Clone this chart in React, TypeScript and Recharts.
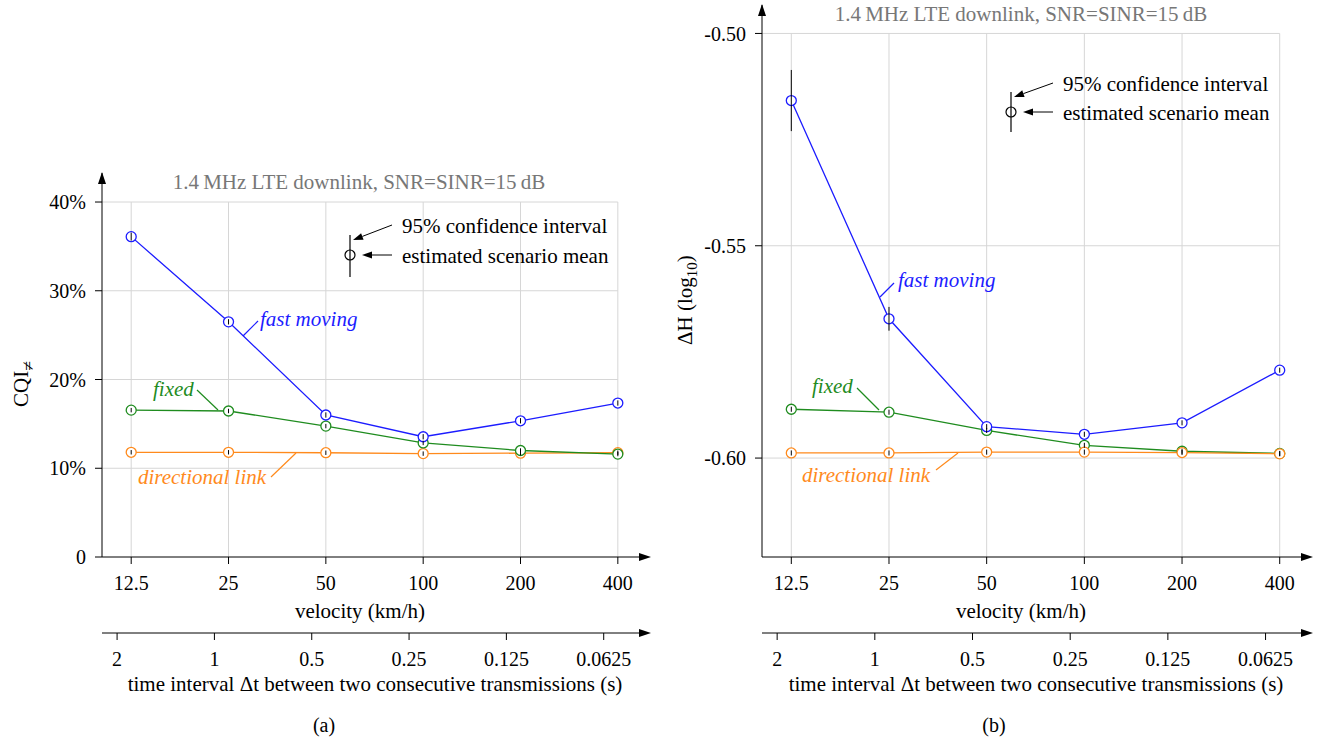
import React from 'react'
import { ErrorBar, Line, LineChart, ReferenceLine, XAxis, YAxis } from 'recharts'

const velocityLabels = ['12.5', '25', '50', '100', '200', '400']
const intervalLabels = ['2', '1', '0.5', '0.25', '0.125', '0.0625']

// (a) CQI mismatch, %
const cqiFast = [36.1, 26.5, 16.0, 13.55, 15.35, 17.35]
const cqiFixed = [16.55, 16.45, 14.75, 12.85, 12.0, 11.6]
const cqiDirectional = [11.8, 11.8, 11.75, 11.65, 11.7, 11.75]
const cqiFastCi = [0.45, 0.3, 0.3, 0.3, 0.3, 0.3]
const cqiFixedCi = [0.25, 0.25, 0.25, 0.25, 0.25, 0.25]
const cqiDirectionalCi = [0.25, 0.25, 0.25, 0.25, 0.25, 0.25]
const cqiTicks = [0, 10, 20, 30, 40]

// (b) delta H (log10)
const dhFast = [-0.5158, -0.5672, -0.5926, -0.5944, -0.5917, -0.5793]
const dhFixed = [-0.5885, -0.5892, -0.5935, -0.597, -0.5984, -0.5989]
const dhDirectional = [-0.5988, -0.5988, -0.5986, -0.5986, -0.5987, -0.599]
const dhFastCi = [0.0072, 0.0028, 0.0006, 0.0006, 0.0006, 0.0006]
const dhFixedCi = [0.0006, 0.0006, 0.0006, 0.0006, 0.0006, 0.0006]
const dhDirectionalCi = [0.0006, 0.0006, 0.0006, 0.0006, 0.0006, 0.0006]
const dhTicks = [-0.6, -0.55, -0.5]

const SERIF = '"Liberation Serif", "Times New Roman", serif'
const BLUE = '#1c1cff'
const GREEN = '#1f8c1f'
const ORANGE = '#ff8a1c'
const GRID = '#d6d6d6'

const X_DOMAIN: [number, number] = [-0.3, 5.31]
const T_DOMAIN: [number, number] = [-0.155, 5.455]
const FONT = { fill: '#000', fontSize: 20, fontFamily: SERIF }
const FONT_L = { fill: '#000', fontSize: 21, fontFamily: SERIF }

const cqiRows = velocityLabels.map((_, i) => ({
  i,
  fast: cqiFast[i],
  fixed: cqiFixed[i],
  dir: cqiDirectional[i],
  fastCi: cqiFastCi[i],
  fixedCi: cqiFixedCi[i],
  dirCi: cqiDirectionalCi[i],
}))

const dhRows = velocityLabels.map((_, i) => ({
  i,
  fast: dhFast[i],
  fixed: dhFixed[i],
  dir: dhDirectional[i],
  fastCi: dhFastCi[i],
  fixedCi: dhFixedCi[i],
  dirCi: dhDirectionalCi[i],
}))

interface PanelProps {
  rows: typeof cqiRows
  width: number
  top: number
  right: number
  yDomain: [number, number]
  yTicks: number[]
  yFormat: (v: number) => string
  gridTop: number
  order: string[]
}

const colorOf: Record<string, string> = { dir: ORANGE, fixed: GREEN, fast: BLUE }

function Panel({ rows, width, top, right, yDomain, yTicks, yFormat, gridTop, order }: PanelProps) {
  const idx = rows.map((r) => r.i)
  return (
    <LineChart width={width} height={742} data={rows} margin={{ top, right, bottom: 39, left: 0 }}>
      <XAxis
        xAxisId="a"
        dataKey="i"
        type="number"
        domain={X_DOMAIN}
        allowDataOverflow
        ticks={idx}
        tickFormatter={(i) => velocityLabels[i as number]}
        height={76}
        tickSize={7}
        tickMargin={12}
        axisLine={{ stroke: '#000' }}
        tickLine={{ stroke: '#000' }}
        tick={FONT}
        label={{ value: 'velocity (km/h)', position: 'insideBottom', offset: 15, dx: -15, ...FONT_L }}
      />
      <XAxis
        xAxisId="b"
        dataKey="i"
        type="number"
        domain={T_DOMAIN}
        allowDataOverflow
        ticks={idx}
        tickFormatter={(i) => intervalLabels[i as number]}
        height={70}
        tickSize={7}
        tickMargin={12}
        axisLine={{ stroke: '#000' }}
        tickLine={{ stroke: '#000' }}
        tick={FONT}
        label={{
          value: 'time interval \u0394t between two consecutive transmissions (s)',
          position: 'insideBottom',
          offset: 12,
          ...FONT_L,
        }}
      />
      <YAxis
        type="number"
        domain={yDomain}
        allowDataOverflow
        ticks={yTicks}
        tickFormatter={yFormat}
        width={102}
        tickSize={7}
        tickMargin={9}
        axisLine={{ stroke: '#000' }}
        tickLine={{ stroke: '#000' }}
        tick={FONT}
      />
      {yTicks
        .filter((v) => v !== yDomain[0])
        .map((v) => (
          <ReferenceLine
            key={'h' + v}
            xAxisId="a"
            segment={[{ x: X_DOMAIN[0], y: v }, { x: idx[idx.length - 1], y: v }]}
            stroke={GRID}
            strokeWidth={1}
          />
        ))}
      {idx.map((i) => (
        <ReferenceLine
          key={'g' + i}
          xAxisId="a"
          segment={[{ x: i, y: yDomain[0] }, { x: i, y: gridTop }]}
          stroke={GRID}
          strokeWidth={1}
        />
      ))}
      {/* invisible series that gives the time-interval axis its data */}
      <Line
        xAxisId="b"
        dataKey="fast"
        stroke="none"
        dot={false}
        activeDot={false}
        isAnimationActive={false}
      />
      {order.map((k) => (
        <Line
          key={k}
          xAxisId="a"
          dataKey={k}
          stroke={colorOf[k]}
          strokeWidth={1.3}
          dot={{ r: 5, fill: '#fff', stroke: colorOf[k], strokeWidth: 1.3 }}
          activeDot={false}
          isAnimationActive={false}
        />
      ))}
      {order.map((k) => (
        <Line
          key={k + 'ci'}
          xAxisId="a"
          dataKey={k}
          stroke="none"
          dot={false}
          activeDot={false}
          isAnimationActive={false}
          zIndex={1200}
        >
          <ErrorBar dataKey={k + 'Ci'} width={0} stroke="#000" strokeWidth={1} direction="y" zIndex={1200} />
        </Line>
      ))}
    </LineChart>
  )
}

function Arrow({ x1, y1, x2, y2 }: { x1: number; y1: number; x2: number; y2: number }) {
  const a = Math.atan2(y2 - y1, x2 - x1)
  const len = 10
  const hw = 3.5
  const bx = x2 - len * Math.cos(a)
  const by = y2 - len * Math.sin(a)
  const px = -Math.sin(a) * hw
  const py = Math.cos(a) * hw
  return (
    <g>
      <line x1={x1} y1={y1} x2={bx} y2={by} stroke="#000" strokeWidth={1} />
      <polygon points={`${x2},${y2} ${bx + px},${by + py} ${bx - px},${by - py}`} fill="#000" />
    </g>
  )
}

function AxisHeads({ left, plotLeft, plotRight, yTop }: { left: number; plotLeft: number; plotRight: number; yTop: number }) {
  const x0 = left + plotLeft
  const x1 = left + plotRight
  return (
    <g fill="#000">
      <polygon points={`${x0},${yTop - 1} ${x0 - 4},${yTop + 11} ${x0 + 4},${yTop + 11}`} />
      <polygon points={`${x1 + 3},557 ${x1 - 9},553 ${x1 - 9},561`} />
      <polygon points={`${x1 + 3},633 ${x1 - 9},629 ${x1 - 9},637`} />
    </g>
  )
}

function Legend({ cx, cy, lo, hi, tx, t1, t2 }: { cx: number; cy: number; lo: number; hi: number; tx: number; t1: number; t2: number }) {
  return (
    <g>
      <line x1={cx} y1={lo} x2={cx} y2={hi} stroke="#000" strokeWidth={1.2} />
      <circle cx={cx} cy={cy} r={5} fill="none" stroke="#000" strokeWidth={1.2} />
      <Arrow x1={tx - 10} y1={t1 - 8} x2={cx + 3} y2={lo + 5} />
      <Arrow x1={tx - 10} y1={cy} x2={cx + 12} y2={cy} />
      <text x={tx} y={t1} {...FONT_L}>95% confidence interval</text>
      <text x={tx} y={t2} {...FONT_L}>estimated scenario mean</text>
    </g>
  )
}

function SeriesLabel({ text, x, y, color, l }: { text: string; x: number; y: number; color: string; l: number[] }) {
  return (
    <g>
      <line x1={l[0]} y1={l[1]} x2={l[2]} y2={l[3]} stroke={color} strokeWidth={1.2} />
      <text x={x} y={y} fill={color} fontSize={21} fontStyle="italic" fontFamily={SERIF}>
        {text}
      </text>
    </g>
  )
}

export default function App() {
  const title = '1.4\u2009MHz LTE downlink, SNR=SINR=15\u2009dB'
  return (
    <div style={{ position: 'absolute', left: 0, top: 0, width: 1324, height: 742, background: '#fff' }}>
      <div style={{ position: 'absolute', left: 0, top: 0 }}>
        <Panel
          rows={cqiRows}
          width={660}
          top={173}
          right={12}
          yDomain={[0, 43.27]}
          yTicks={cqiTicks}
          yFormat={(v) => (v === 0 ? '0' : `${v}%`)}
          gridTop={40}
          order={['dir', 'fixed', 'fast']}
        />
      </div>
      <div style={{ position: 'absolute', left: 660, top: 0 }}>
        <Panel
          rows={dhRows}
          width={664}
          top={5}
          right={14}
          yDomain={[-0.6233, -0.4933]}
          yTicks={dhTicks}
          yFormat={(v) => v.toFixed(2)}
          gridTop={-0.5}
          order={['fixed', 'dir', 'fast']}
        />
      </div>
      <svg
        width={1324}
        height={742}
        style={{ position: 'absolute', left: 0, top: 0, pointerEvents: 'none' }}
      >
        <AxisHeads left={0} plotLeft={102} plotRight={648} yTop={173} />
        <AxisHeads left={660} plotLeft={102} plotRight={650} yTop={5} />

        <text x={359} y={189} textAnchor="middle" fill="#777" fontSize={21} fontFamily={SERIF}>{title}</text>
        <text x={1021} y={21} textAnchor="middle" fill="#777" fontSize={21} fontFamily={SERIF}>{title}</text>

        <Legend cx={350} cy={255} lo={235} hi={277} tx={402} t1={233} t2={263} />
        <Legend cx={1011} cy={112} lo={92} hi={132} tx={1063} t1={91} t2={120} />

        <text transform="translate(28,407) rotate(-90)" {...FONT_L}>
          CQI<tspan dy={6} fontSize={18}>{'\u2260'}</tspan>
        </text>
        <text transform="translate(692,345) rotate(-90)" {...FONT_L}>
          {'\u0394H (log'}<tspan dy={5} fontSize={15}>10</tspan><tspan dy={-5}>)</tspan>
        </text>

        <SeriesLabel text="fast moving" x={260} y={326} color={BLUE} l={[258, 321, 243, 336]} />
        <SeriesLabel text="fixed" x={153} y={396} color={GREEN} l={[197, 390, 218, 410]} />
        <SeriesLabel text="directional link" x={138} y={484} color={ORANGE} l={[271, 477, 296, 453]} />

        <SeriesLabel text="fast moving" x={898} y={287} color={BLUE} l={[894, 283, 880, 297]} />
        <SeriesLabel text="fixed" x={812} y={393} color={GREEN} l={[857, 388, 879, 410]} />
        <SeriesLabel text="directional link" x={802} y={482} color={ORANGE} l={[936, 470, 958, 453]} />

        <text x={324} y={732} textAnchor="middle" {...FONT}>(a)</text>
        <text x={994} y={732} textAnchor="middle" {...FONT}>(b)</text>
      </svg>
    </div>
  )
}
